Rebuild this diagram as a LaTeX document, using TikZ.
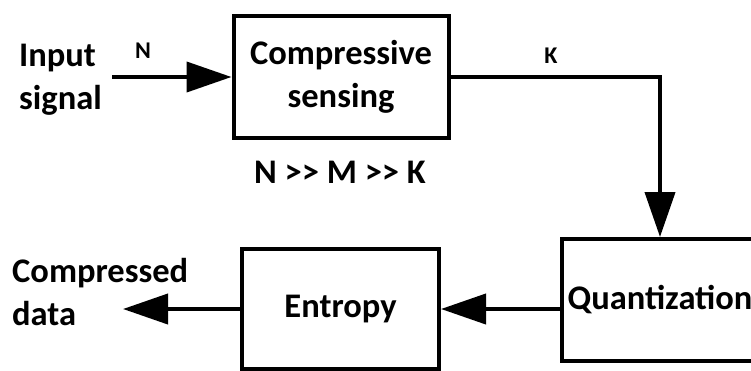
\documentclass[tikz,border=0pt]{standalone}
\usepackage{fontspec}
\setmainfont{Carlito}
\usetikzlibrary{arrows.meta}
\tikzset{
  block/.style={draw,line width=4pt,minimum width=215pt,minimum height=122pt,inner sep=0pt,
    font=\fontsize{34.5}{43}\selectfont\bfseries,align=center},
  label/.style={font=\fontsize{34.5}{43}\selectfont\bfseries,align=left,inner sep=0pt},
  small/.style={font=\fontsize{24}{28}\selectfont\bfseries,inner sep=0pt},
  flow/.style={line width=4pt,-{Triangle[length=45pt,width=30pt]}}
}
\begin{document}
\begin{tikzpicture}[x=1pt,y=-1pt]
\useasboundingbox (0,0) rectangle (751,370);

\node[block] (cs) at (341,77) {Compressive\\sensing};
\node[block,minimum width=196pt] (quant) at (660,300) {Quantization};
\node[block,minimum width=197pt,minimum height=120pt] (entropy) at (340.5,309) {Entropy};

\coordinate (in) at (112,77);
\coordinate (out) at (123,309);

\draw[flow] (in) -- (cs.west);
\draw[flow] (cs.east) -| (quant.north);
\draw[flow] (quant.west |- entropy.east) -- (entropy.east);
\draw[flow] (entropy.west) -- (out);

\node[label,anchor=west] (inlabel) at (19,80) {Input\\signal};
\node[label,anchor=west] (outlabel) at (12,292) {Compressed\\data};
\node[small] (nlabel) at (143,51) {N};
\node[small] (klabel) at (551,56) {K};
\node[label] (ratio) at (340,172) {N >{}> M >{}> K};

\end{tikzpicture}
\end{document}
